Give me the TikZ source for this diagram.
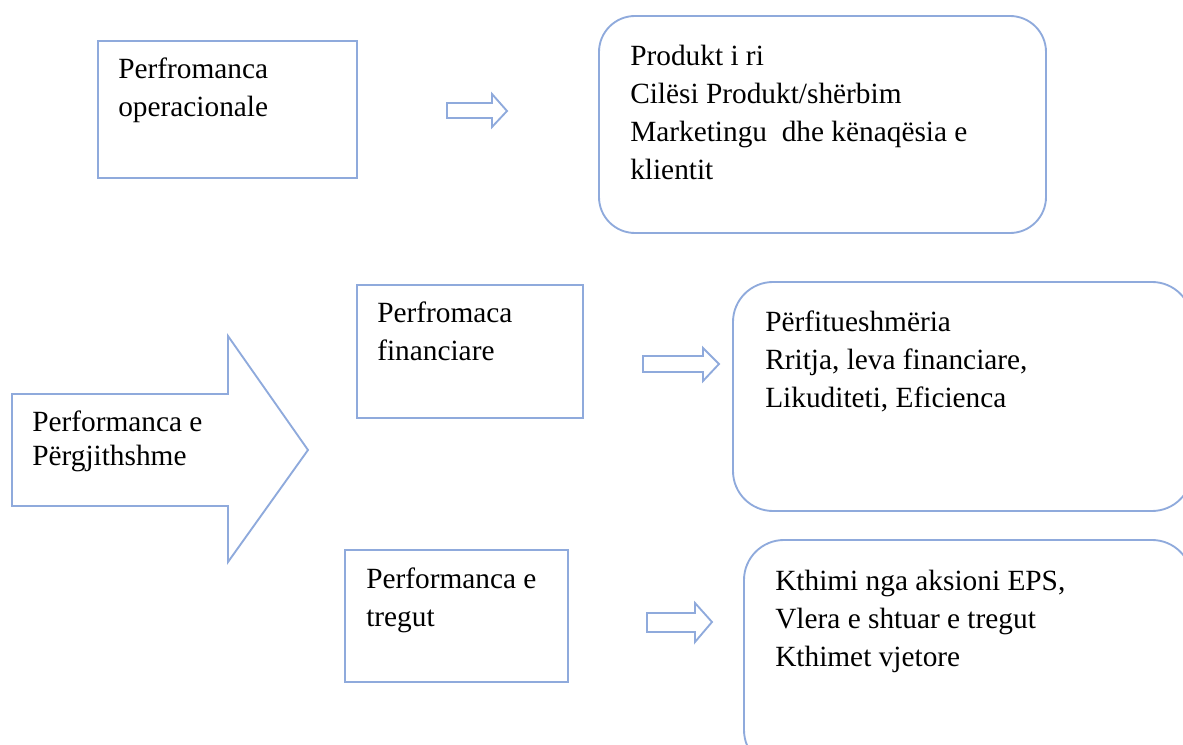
\documentclass[tikz,border=0pt]{standalone}
\usepackage{fontspec}
\setmainfont{Liberation Serif}
\definecolor{boxblue}{RGB}{143,170,220}
\begin{document}
\begin{tikzpicture}[x=0.75pt,y=-0.75pt,
  shapeline/.style={draw=boxblue,line width=1.4pt,line join=miter},
  blockarrow/.style={draw=boxblue,line width=1.4pt,line join=miter},
  txt/.style={anchor=base west,inner sep=0pt,font=\fontsize{22}{28.5}\selectfont},
  txtb/.style={anchor=base west,inner sep=0pt,font=\fontsize{22}{24.75}\selectfont}]
\useasboundingbox (0,0) rectangle (1183,745);
\clip (0,0) rectangle (1183,745);
% top row
\draw[shapeline] (98,41) rectangle (357,178);
\node[txt] (op) at (118,79) {\begin{tabular}[t]{@{}l@{}}Perfromanca\\operacionale\end{tabular}};
\draw[blockarrow] (447,103) -- (492,103) -- (492,94) -- (507,111) -- (492,127) -- (492,118) -- (447,118) -- cycle;
\draw[shapeline,rounded corners=27pt] (599,16) rectangle (1046,233);
\node[txt] (opd) at (630,66) {\begin{tabular}[t]{@{}l@{}}Produkt i ri\\Cilësi Produkt/shërbim\\Marketingu\ \ dhe kënaqësia e\\klientit\end{tabular}};
% big arrow
\draw[blockarrow] (12,394) -- (228,394) -- (228,336) -- (308,450) -- (228,562) -- (228,506) -- (12,506) -- cycle;
\node[txtb] (gen) at (32,432) {\begin{tabular}[t]{@{}l@{}}Performanca e\\Përgjithshme\end{tabular}};
% financial
\draw[shapeline] (357,285) rectangle (583,418);
\node[txt] (fin) at (377,323) {\begin{tabular}[t]{@{}l@{}}Perfromaca\\financiare\end{tabular}};
\draw[blockarrow] (643,356) -- (703,356) -- (703,348) -- (719,364) -- (703,381) -- (703,372) -- (643,372) -- cycle;
\draw[shapeline,rounded corners=30pt] (733,282) rectangle (1192,511);
\node[anchor=base west,inner sep=0pt,font=\fontsize{22}{28.5}\selectfont] (find) at (765,332) {\begin{tabular}[t]{@{}l@{}}Përfitueshmëria\\Rritja, leva financiare,\\Likuditeti, Eficienca\end{tabular}};
% market
\draw[shapeline] (345,550) rectangle (568,682);
\node[txt] (mkt) at (366,588) {\begin{tabular}[t]{@{}l@{}}Performanca e\\tregut\end{tabular}};
\draw[blockarrow] (647,613) -- (695,613) -- (695,603) -- (712,622) -- (695,642) -- (695,632) -- (647,632) -- cycle;
\draw[shapeline,rounded corners=30pt] (744,540) rectangle (1192,770);
\node[txt] (mktd) at (775,590) {\begin{tabular}[t]{@{}l@{}}Kthimi nga aksioni EPS,\\Vlera e shtuar e tregut\\Kthimet vjetore\end{tabular}};
\end{tikzpicture}
\end{document}
